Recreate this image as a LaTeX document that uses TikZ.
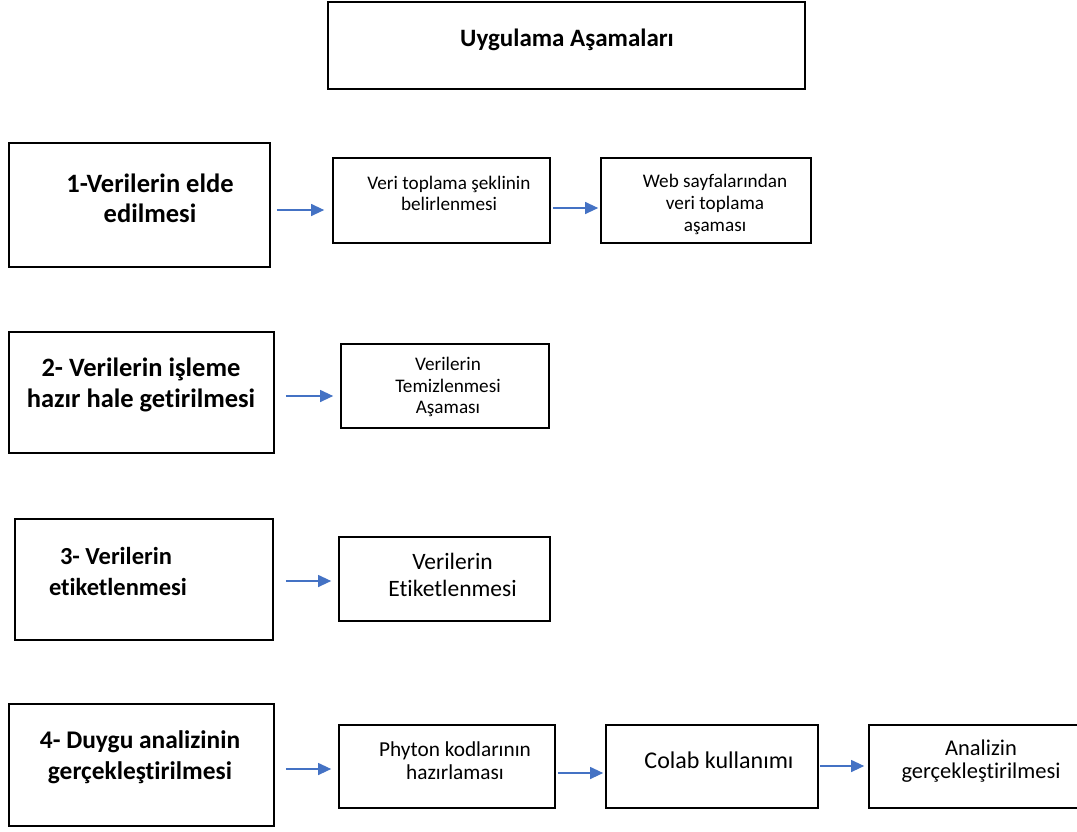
\documentclass[tikz,border=0pt]{standalone}
\usepackage{fontspec}
\setmainfont{Carlito}[Ligatures=NoCommon]
\usetikzlibrary{arrows.meta,calc}
\definecolor{arrblue}{HTML}{4472C4}
\tikzset{
  box/.style={draw=black,line width=1.7pt,fill=white,inner sep=0pt},
  txt/.style={align=center,inner sep=0pt},
  arr/.style={draw=arrblue,line width=1.2pt,-{Triangle[length=13pt,width=12pt]}}
}
\newcommand{\fs}[2]{\fontsize{#1}{#2}\selectfont}
\begin{document}
\begin{tikzpicture}[x=1pt,y=-1pt]
\useasboundingbox (0,0) rectangle (1077,831);
% title
\node[box,minimum width=477,minimum height=87] (title) at (566.5,45.5) {};
\node[txt,font=\fs{25}{28}\bfseries] (titletxt) at (567,40) {Uygulama Aşamaları};
% row 1
\node[box,minimum width=261,minimum height=124] (b1) at (139.5,205) {};
\node[txt,font=\fs{26.5}{30}\bfseries] (b1t) at (150,198) {1-Verilerin elde\\edilmesi};
\node[box,minimum width=217,minimum height=85] (b1a) at (441.5,200.5) {};
\node[txt,font=\fs{19.2}{21}] (b1at) at (449,193) {Veri toplama şeklinin\\belirlenmesi};
\node[box,minimum width=210,minimum height=85] (b1b) at (706,200.5) {};
\node[txt,font=\fs{19.2}{22}] (b1bt) at (715,204) {Web sayfalarından\\veri toplama\\aşaması};
% row 2
\node[box,minimum width=265,minimum height=121] (b2) at (141.5,392.5) {};
\node[txt,font=\fs{26.5}{31}\bfseries] (b2t) at (141,385) {2- Verilerin işleme\\hazır hale getirilmesi};
\node[box,minimum width=208,minimum height=84] (b2a) at (445,386) {};
\node[txt,font=\fs{19.2}{21.5}] (b2at) at (448,387) {Verilerin\\Temizlenmesi\\Aşaması};
% row 3
\node[box,minimum width=258,minimum height=121] (b3) at (144,579.5) {};
\node[txt,font=\fs{24.5}{31}\bfseries,align=left] (b3t) at (118,571) {\hspace{11pt}3- Verilerin\\etiketlenmesi};
\node[box,minimum width=211,minimum height=84] (b3a) at (444.5,579) {};
\node[txt,font=\fs{23.5}{27}] (b3at) at (452.5,575) {Verilerin\\Etiketlenmesi};
% row 4
\node[box,minimum width=265,minimum height=122] (b4) at (141.5,765) {};
\node[txt,font=\fs{25.4}{31}\bfseries] (b4t) at (140,757) {4- Duygu analizinin\\gerçekleştirilmesi};
\node[box,minimum width=216,minimum height=83] (b4a) at (447,766.5) {};
\node[txt,font=\fs{21.3}{23}] (b4at) at (455,761) {Phyton kodlarının\\hazırlaması};
\node[box,minimum width=212,minimum height=83] (b4b) at (712,766.5) {};
\node[txt,font=\fs{24}{27}] (b4bt) at (719,760) {Colab kullanımı};
\node[box,minimum width=212,minimum height=83] (b4c) at (975,766.5) {};
\node[txt,font=\fs{22.5}{23}] (b4ct) at (981,761) {Analizin\\gerçekleştirilmesi};
% arrows
\draw[arr] ([shift={(6,5)}]b1.east) -- ([shift={(-8,9.5)}]b1a.west);
\draw[arr] ([shift={(2,7.5)}]b1a.east) -- ([shift={(-2,7.5)}]b1b.west);
\draw[arr] ([shift={(11,3.5)}]b2.east) -- ([shift={(-7,10)}]b2a.west);
\draw[arr] ([shift={(12,1.5)}]b3.east) -- ([shift={(-7,2)}]b3a.west);
\draw[arr] ([shift={(11,4)}]b4.east) -- ([shift={(-7,2.5)}]b4a.west);
\draw[arr] ([shift={(2,6.5)}]b4a.east) -- ([shift={(-2,6.5)}]b4b.west);
\draw[arr] ([shift={(1,-0.5)}]b4b.east) -- ([shift={(-4,-0.5)}]b4c.west);
\end{tikzpicture}
\end{document}
